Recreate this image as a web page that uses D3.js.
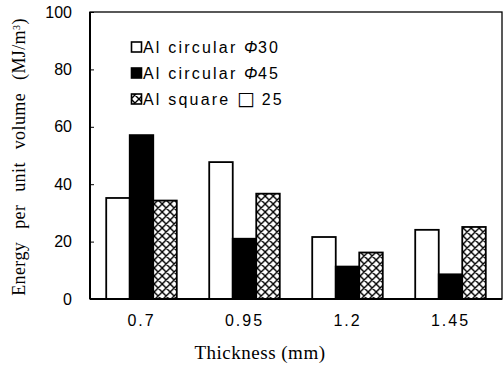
<!DOCTYPE html>
<html>
<head>
<meta charset="utf-8">
<script src="https://cdn.jsdelivr.net/npm/d3@7"></script>
<style>
  body { margin: 0; background: #fff; }
  svg { display: block; }
</style>
</head>
<body>
<svg id="chart" width="504" height="368"></svg>
<script>
// thickness categories (mm)
var thickness = ["0.7", "0.95", "1.2", "1.45"];
// energy per unit volume (MJ/m^3)
var circ30 = [35.2, 47.7, 21.6, 24.1];
var circ45 = [57.1, 21.0, 11.3, 8.6];
var square25 = [34.3, 36.7, 16.2, 25.1];
var seriesNames = ["Al circular Φ30", "Al circular Φ45", "Al square □ 25"];
var yTicks = [0, 20, 40, 60, 80, 100];

var margin = {top: 12, right: 2, bottom: 69, left: 90},
    width = 504 - margin.left - margin.right,
    height = 368 - margin.top - margin.bottom;

var svg = d3.select("#chart");

// hatch pattern for the square tubes
var defs = svg.append("defs");
var pat = defs.append("pattern")
    .attr("id", "hatch")
    .attr("patternUnits", "userSpaceOnUse")
    .attr("width", 8).attr("height", 8);
pat.append("rect").attr("width", 8).attr("height", 8).attr("fill", "#fff");
pat.append("path").attr("d", "M0,0L8,8M8,0L0,8M-1,7L1,9M7,-1L9,1")
    .attr("stroke", "#000").attr("stroke-width", 1.4);

var fills = ["#fff", "#000", "url(#hatch)"];
var seriesData = [circ30, circ45, square25];

var g = svg.append("g")
    .attr("transform", "translate(" + margin.left + "," + margin.top + ")");

var x0 = d3.scaleBand().domain(thickness).range([0, width]).paddingInner(0.315).paddingOuter(0.1575);
var x1 = d3.scaleBand().domain([0, 1, 2]).range([0, x0.bandwidth()]);
var y = d3.scaleLinear().domain([0, 100]).range([height, 0]);

// bars
var groups = g.selectAll("g.grp")
    .data(thickness)
    .enter().append("g")
    .attr("class", "grp")
    .attr("transform", function(d) { return "translate(" + x0(d) + ",0)"; });

groups.selectAll("rect")
    .data(function(d, i) { return seriesData.map(function(s, k) { return {k: k, v: s[i]}; }); })
    .enter().append("rect")
    .attr("x", function(d) { return x1(d.k); })
    .attr("y", function(d) { return y(d.v); })
    .attr("width", x1.bandwidth())
    .attr("height", function(d) { return height - y(d.v); })
    .attr("fill", function(d) { return fills[d.k]; })
    .attr("stroke", "#000")
    .attr("stroke-width", 1.8);

// frame
g.append("rect")
    .attr("width", width).attr("height", height)
    .attr("fill", "none").attr("stroke", "#000").attr("stroke-width", 1.3);
g.append("line").attr("x1", 0).attr("x2", 0).attr("y1", 0).attr("y2", height)
    .attr("stroke", "#000").attr("stroke-width", 2);
g.append("line").attr("x1", 0).attr("x2", width).attr("y1", height).attr("y2", height)
    .attr("stroke", "#000").attr("stroke-width", 1.8);

// y axis
var yAxis = g.append("g")
    .call(d3.axisLeft(y).tickValues(yTicks).tickSize(-4).tickPadding(18));
yAxis.select(".domain").remove();
yAxis.selectAll("text")
    .attr("font-family", "Liberation Sans, Arial, sans-serif")
    .attr("font-size", 16).attr("fill", "#000");

// x axis labels
var xAxis = g.append("g")
    .attr("transform", "translate(0," + height + ")")
    .call(d3.axisBottom(x0).tickSize(0).tickPadding(16));
xAxis.select(".domain").remove();
xAxis.selectAll("text")
    .attr("font-family", "Liberation Sans, Arial, sans-serif")
    .attr("font-size", 16).attr("letter-spacing", 2).attr("fill", "#000");

// axis titles
svg.append("text")
    .attr("transform", "translate(25,157) rotate(-90)")
    .attr("text-anchor", "middle")
    .attr("font-family", "Liberation Serif, Times New Roman, serif")
    .attr("font-size", 18)
    .attr("word-spacing", 8).attr("letter-spacing", 0.4)
    .html("Energy per unit volume (MJ/m<tspan baseline-shift='super' font-size='10'>3</tspan>)");

svg.append("text")
    .attr("x", 260).attr("y", 359)
    .attr("text-anchor", "middle")
    .attr("font-family", "Liberation Serif, Times New Roman, serif")
    .attr("font-size", 19).attr("letter-spacing", 0.5)
    .text("Thickness (mm)");

// legend
var leg = svg.append("g").attr("transform", "translate(131,47)");
var rows = leg.selectAll("g")
    .data(seriesNames)
    .enter().append("g")
    .attr("transform", function(d, i) { return "translate(0," + i * 26 + ")"; });
rows.append("rect")
    .attr("x", 0.5).attr("y", -5).attr("width", 10).attr("height", 10)
    .attr("fill", function(d, i) { return fills[i]; })
    .attr("stroke", "#000").attr("stroke-width", 1.6);
rows.each(function(d) {
  var t = d3.select(this).append("text")
      .attr("x", 12).attr("y", 6)
      .attr("font-family", "Liberation Sans, Arial, sans-serif")
      .attr("font-size", 16).attr("letter-spacing", 2.2);
  var m = d.match(/^(.*?)([Φ□])\s?(.*)$/);
  t.append("tspan").text(m[1]);
  if (m[2] === "Φ") {
    t.append("tspan").attr("font-style", "italic").attr("letter-spacing", 0.5).text("Φ");
    t.append("tspan").text(m[3]);
  } else {
    t.append("tspan").attr("font-family", "DejaVu Sans").attr("font-size", 19).attr("letter-spacing", 0).text("□");
    t.append("tspan").text(" " + m[3]);
  }
});
</script>
</body>
</html>
